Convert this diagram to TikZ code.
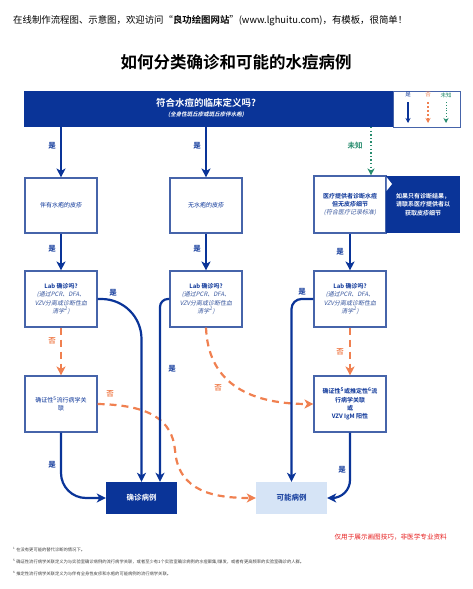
\documentclass[tikz,border=0pt]{standalone}
\usepackage{fontspec}
\setmainfont{Noto Sans CJK SC}[BoldFont={Noto Sans CJK SC Bold},ItalicFont={Noto Sans CJK SC},ItalicFeatures={FakeSlant=0.2},BoldItalicFont={Noto Sans CJK SC Bold},BoldItalicFeatures={FakeSlant=0.2}]
\usetikzlibrary{arrows.meta}
\definecolor{navy}{RGB}{10,52,152}
\definecolor{boxblue}{RGB}{70,100,170}
\definecolor{orangeC}{RGB}{240,128,80}
\definecolor{greenC}{RGB}{40,140,110}
\definecolor{lightblueC}{RGB}{214,228,246}
\definecolor{tblue}{RGB}{60,90,160}
\definecolor{redC}{RGB}{230,30,30}
\newcommand\ital[1]{{\color{tblue}\itshape #1}}
\begin{document}
\begin{tikzpicture}[x=1pt,y=-1pt,
  box/.style={draw=boxblue,line width=1.1pt,fill=white,minimum width=72pt,minimum height=55pt,inner sep=1pt,align=center,font=\fontsize{6}{8.3}\selectfont,text=navy},
  yes/.style={draw=navy,line width=2.2pt,-{Stealth[length=9pt,width=9pt,inset=2.5pt]}},
  no/.style={draw=orangeC,line width=2.2pt,dash pattern=on 7pt off 5pt,-{Stealth[length=9pt,width=9pt,inset=2.5pt]}},
  unk/.style={draw=greenC,line width=1.4pt,dash pattern=on 1.4pt off 2.2pt,-{Stealth[length=7pt,width=7pt,inset=2pt]}},
  ylab/.style={text=navy,font=\bfseries\fontsize{7.5}{8}\selectfont,inner sep=0},
  nlab/.style={text=orangeC,font=\bfseries\fontsize{7.5}{8}\selectfont,inner sep=0},
  foot/.style={anchor=west,inner sep=0,font=\fontsize{4.3}{5}\selectfont,text=black!75}]
\useasboundingbox (0,0) rectangle (472,589);
% header
\node[anchor=west,inner sep=0,font=\fontsize{9.4}{11}\selectfont] (hdr) at (13,21) {在线制作流程图、示意图，欢迎访问“\textbf{良功绘图网站}”(www.lghuitu.com)，有模板，很简单！};
\node[inner sep=0,font=\bfseries\fontsize{16.5}{18}\selectfont] (title) at (236,62) {如何分类确诊和可能的水痘病例};
% top bar
\node[fill=navy,minimum width=369pt,minimum height=36pt,inner sep=0] (bar) at (208.5,109) {};
\node[inner sep=0,text=white,font=\bfseries\fontsize{9.5}{11}\selectfont] (q) at (206,103) {符合水痘的临床定义吗?};
\node[inner sep=0,text=white,font=\bfseries\itshape\fontsize{5.5}{6}\selectfont] (qs) at (206,115) {(全身性斑丘疹或斑丘疹伴水疱)};
% legend
\node[draw=boxblue,line width=1pt,fill=white,minimum width=67pt,minimum height=36pt,inner sep=0] (leg) at (426.5,109) {};
\node[inner sep=0,text=navy,font=\fontsize{5.5}{6}\selectfont] (lg1) at (408,95) {是};
\node[inner sep=0,text=orangeC,font=\fontsize{5.5}{6}\selectfont] (lg2) at (428,95) {否};
\node[inner sep=0,text=greenC,font=\fontsize{5.5}{6}\selectfont] (lg3) at (446,95) {未知};
\coordinate (la1) at (408,102); \coordinate (lb1) at (408,123);
\coordinate (la2) at (428,102); \coordinate (lb2) at (428,123);
\coordinate (la3) at (446,102); \coordinate (lb3) at (446,123);
\draw[draw=navy,line width=1.3pt,-{Stealth[length=5pt,width=5pt]}] (la1) -- (lb1);
\draw[draw=orangeC,line width=1.1pt,dash pattern=on 2pt off 2pt,-{Stealth[length=5pt,width=5pt]}] (la2) -- (lb2);
\draw[draw=greenC,line width=1pt,dash pattern=on 1pt off 1.8pt,-{Stealth[length=5pt,width=5pt]}] (la3) -- (lb3);
% row 1
\node[box] (b1) at (61,205.5) {伴有水疱的皮疹};
\node[box] (b2) at (206,205.5) {无水疱的皮疹};
\node[box,minimum height=57pt] (b3l) at (350,204.5) {\textbf{医疗提供者诊断水痘}\\\textbf{但无皮疹细节}\\\ital{(符合医疗记录标准)}};
\node[fill=navy,minimum width=74pt,minimum height=57pt,inner sep=1pt,align=center,text=white,font=\bfseries\fontsize{6}{8.3}\selectfont] (b3r) at (423,204.5) {如果只有诊断结果，\\请联系医疗提供者以\\获取皮疹细节};
\fill[white] (386.5,177) -- (392,184) -- (386.5,191) -- cycle;
% row 2
\node[box,minimum height=56pt] (b4) at (61,299) {\textbf{Lab 确诊吗?}\\\ital{(通过PCR、DFA、}\\\ital{VZV分离或诊断性血}\\\ital{清学\textsuperscript{1})}};
\node[box,minimum height=56pt] (b5) at (206,299) {\textbf{Lab 确诊吗?}\\\ital{(通过PCR、DFA、}\\\ital{VZV分离或诊断性血}\\\ital{清学\textsuperscript{1})}};
\node[box,minimum height=56pt] (b6) at (350,299) {\textbf{Lab 确诊吗?}\\\ital{(通过PCR、DFA、}\\\ital{VZV分离或诊断性血}\\\ital{清学\textsuperscript{1})}};
% row 3
\node[box,minimum height=56pt] (b7) at (61,404) {确证性\textsuperscript{5}流行病学关\\联};
\node[box,minimum height=56pt,font=\bfseries\fontsize{6}{8.3}\selectfont] (b8) at (350,404) {确证性\textsuperscript{5}或推定性\textsuperscript{6}流\\行病学关联\\或\\VZV IgM 阳性};
% outcomes
\node[fill=navy,minimum width=71pt,minimum height=32pt,inner sep=0,text=white,font=\bfseries\fontsize{7.5}{9}\selectfont] (conf) at (141.5,498) {确诊病例};
\node[fill=lightblueC,minimum width=71pt,minimum height=32pt,inner sep=0,text=navy,font=\bfseries\fontsize{7.5}{9}\selectfont] (poss) at (291.5,498) {可能病例};
% connectors from bar
\draw[yes] (b1.north |- bar.south) -- (b1.north);
\draw[yes] (b2.north |- bar.south) -- (b2.north);
\coordinate (u0) at (371,127);
\draw[unk] (u0) -- (u0 |- b3l.north);
\node[ylab] (y1) at (52,146) {是};
\node[ylab] (y2) at (197,146) {是};
\node[inner sep=0,text=greenC,font=\bfseries\fontsize{7.5}{8}\selectfont] (u1) at (355,146) {未知};
% row1 -> row2
\draw[yes] (b1) -- (b4);
\draw[yes] (b2) -- (b5);
\draw[yes] (b3l) -- (b6);
\node[ylab] (y3) at (52,249) {是};
\node[ylab] (y4) at (197,249) {是};
\node[ylab] (y5) at (340,252) {是};
% no arrows
\draw[no] (b4) -- (b7);
\draw[no] (b6) -- (b8);
\node[nlab] (n1) at (52,341) {否};
\node[nlab] (n2) at (340,352) {否};
\draw[no] (b5.south) .. controls (208,380) and (245,404) .. (b8.west);
\node[nlab] (n3) at (218,388) {否};
\draw[no] (b7.east) .. controls (150,405) and (172,420) .. (175,450) .. controls (178,492) and (215,498) .. (poss.west);
\node[nlab] (n4) at (110,394) {否};
% yes arrows to outcomes
\draw[yes,rounded corners=40pt] (b4.east) -| (conf.north);
\node[ylab] (y6) at (113,293) {是};
\coordinate (c2) at (160,0);
\draw[yes,rounded corners=8pt] (b5.west) -| (c2 |- conf.north);
\node[ylab] (y7) at (172,369) {是};
\draw[yes,rounded corners=10pt] (b6.west) -| (poss.north);
\node[ylab] (y8) at (302,292) {是};
\draw[yes,rounded corners=25pt] (b7.south) |- (conf.west);
\node[ylab] (y9) at (52,465) {是};
\draw[yes,rounded corners=18pt] (b8.south) |- (poss.east);
\node[ylab] (y10) at (342,470) {是};
% notes
\node[anchor=east,inner sep=0,text=redC,font=\fontsize{6.6}{7}\selectfont] (note) at (447,537) {仅用于展示画图技巧，非医学专业资料};
\node[foot] (f1) at (13,550) {\textsuperscript{1} 在没有更可能的替代诊断的情况下。};
\node[foot] (f2) at (13,562) {\textsuperscript{5} 确证性流行病学关联定义为与实验室确诊病例的流行病学关联，或者至少有1个实验室确诊病例的水痘聚集/爆发，或者有更高频率的实验室确诊的人群。};
\node[foot] (f3) at (13,574) {\textsuperscript{6} 推定性流行病学关联定义为与伴有全身性皮疹和水疱的可能病例的流行病学关联。};
\end{tikzpicture}
\end{document}
